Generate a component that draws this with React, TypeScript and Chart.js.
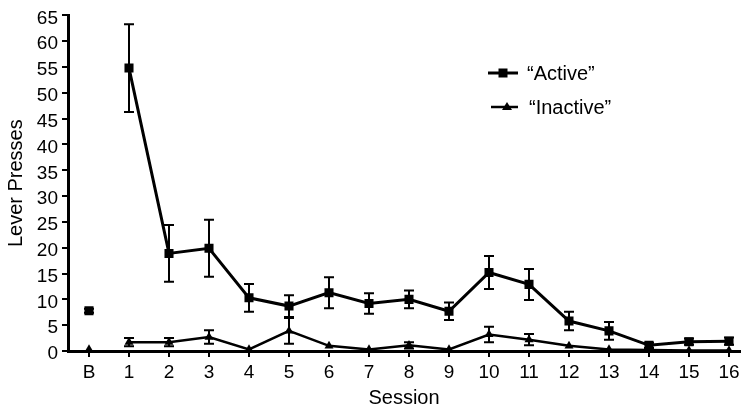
import React, { useEffect, useRef } from "react";
import { Chart, registerables } from "chart.js";

Chart.register(...registerables);

const categories = ["B", "1", "2", "3", "4", "5", "6", "7", "8", "9", "10", "11", "12", "13", "14", "15", "16"];
const activeMean = [7.8, 54.8, 18.9, 19.9, 10.3, 8.7, 11.3, 9.2, 10.0, 7.7, 15.2, 12.9, 5.8, 3.9, 1.1, 1.8, 1.9];
const activeErr = [0.4, 8.5, 5.5, 5.5, 2.7, 2.1, 3.0, 2.0, 1.7, 1.7, 3.2, 3.0, 1.8, 1.7, 0.5, 0.6, 0.7];
const inactiveMean = [0.3, 1.7, 1.7, 2.7, 0.3, 3.9, 1.0, 0.3, 1.1, 0.3, 3.2, 2.2, 1.0, 0.3, 0.2, 0.1, 0.1];
const inactiveErr = [0, 0.8, 0.8, 1.3, 0, 2.5, 0, 0, 0.6, 0, 1.5, 1.1, 0, 0, 0, 0, 0];
const yTicks = [0, 5, 10, 15, 20, 25, 30, 35, 40, 45, 50, 55, 60, 65];
const seriesLabels = ["\u201cActive\u201d", "\u201cInactive\u201d"];

const FONT = "'Liberation Sans', Arial, sans-serif";

const errorBars = {
  id: "errorBars",
  afterDatasetsDraw(chart: any) {
    const ctx = chart.ctx;
    const y = chart.scales.y;
    const errs = [activeErr, inactiveErr];
    const means = [activeMean, inactiveMean];
    ctx.save();
    ctx.strokeStyle = "#000";
    ctx.lineWidth = 2;
    chart.data.datasets.forEach((ds: any, di: number) => {
      const meta = chart.getDatasetMeta(di);
      meta.data.forEach((pt: any, i: number) => {
        const e = errs[di][i];
        if (!e) return;
        const x = pt.x;
        const top = y.getPixelForValue(means[di][i] + e);
        const bot = y.getPixelForValue(Math.max(0, means[di][i] - e));
        ctx.beginPath();
        ctx.moveTo(x, top);
        ctx.lineTo(x, bot);
        ctx.moveTo(x - 5, top);
        ctx.lineTo(x + 5, top);
        ctx.moveTo(x - 5, bot);
        ctx.lineTo(x + 5, bot);
        ctx.stroke();
      });
    });
    ctx.restore();
  },
};

const customLegend = {
  id: "customLegend",
  afterDraw(chart: any) {
    const ctx = chart.ctx;
    ctx.save();
    ctx.strokeStyle = "#000";
    ctx.fillStyle = "#000";
    // Active
    ctx.lineWidth = 3;
    ctx.beginPath();
    ctx.moveTo(488, 73);
    ctx.lineTo(518, 73);
    ctx.stroke();
    ctx.fillRect(503 - 4.5, 73 - 4.5, 9, 9);
    // Inactive
    ctx.lineWidth = 2.5;
    ctx.beginPath();
    ctx.moveTo(491, 107);
    ctx.lineTo(518, 107);
    ctx.stroke();
    ctx.beginPath();
    ctx.moveTo(507, 102);
    ctx.lineTo(512, 110);
    ctx.lineTo(502, 110);
    ctx.closePath();
    ctx.fill();
    ctx.font = `20px ${FONT}`;
    ctx.textBaseline = "middle";
    ctx.textAlign = "left";
    ctx.fillText(seriesLabels[0], 527, 74);
    ctx.fillText(seriesLabels[1], 529, 108);
    ctx.restore();
  },
};

export default function App() {
  const ref = useRef<HTMLCanvasElement>(null);
  useEffect(() => {
    const cv = ref.current!;
    const noLineFromB = (ctx: any) => (ctx.p0DataIndex === 0 ? "rgba(0,0,0,0)" : undefined);
    const chart = new Chart(cv, {
      type: "line",
      data: {
        datasets: [
          {
            label: seriesLabels[0],
            data: activeMean.map((v, i) => ({ x: i, y: v })),
            borderColor: "#000",
            backgroundColor: "#000",
            borderWidth: 3,
            pointStyle: "rect",
            pointRadius: 6.4,
            pointBorderWidth: 0,
            segment: { borderColor: noLineFromB },
          },
          {
            label: seriesLabels[1],
            data: inactiveMean.map((v, i) => ({ x: i, y: v })),
            borderColor: "#000",
            backgroundColor: "#000",
            borderWidth: 2.5,
            pointStyle: "triangle",
            pointRadius: 5.2,
            pointBorderWidth: 0,
            segment: { borderColor: noLineFromB },
          },
        ],
      },
      options: {
        animation: false,
        responsive: false,
        maintainAspectRatio: false,
        layout: { padding: { top: 13, right: 9, left: 0, bottom: 0 } },
        plugins: { legend: { display: false }, tooltip: { enabled: false } },
        scales: {
          x: {
            type: "linear",
            min: -0.525,
            max: 16.275,
            afterBuildTicks: (scale: any) => {
              scale.ticks = categories.map((_, i) => ({ value: i }));
            },
            afterFit: (scale: any) => {
              scale.height = 64;
            },
            ticks: {
              callback: (v: any) => categories[v as number],
              color: "#000",
              font: { size: 19, family: FONT },
              padding: 4,
              maxRotation: 0,
              autoSkip: false,
            },
            grid: { display: true, drawOnChartArea: false, drawTicks: true, tickLength: 6, color: "#000", lineWidth: 2 },
            border: { display: true, color: "#000", width: 3 },
            title: { display: true, text: "Session", color: "#000", font: { size: 20, family: FONT }, padding: { top: 2, bottom: 5 } },
          },
          y: {
            type: "linear",
            min: 0,
            max: 65,
            afterBuildTicks: (scale: any) => {
              scale.ticks = yTicks.map((v) => ({ value: v }));
            },
            afterFit: (scale: any) => {
              scale.width = 68;
            },
            ticks: {
              color: "#000",
              font: { size: 19, family: FONT },
              padding: 4,
              labelOffset: 3,
            },
            grid: { display: true, drawOnChartArea: false, drawTicks: true, tickLength: 6, color: "#000", lineWidth: 2 },
            border: { display: true, color: "#000", width: 3 },
            title: { display: true, text: "Lever Presses", color: "#000", font: { size: 20, family: FONT }, padding: { top: 4, bottom: 0 } },
          },
        },
      },
      plugins: [errorBars, customLegend],
    } as any);
    return () => chart.destroy();
  }, []);
  return (
    <div style={{ position: "fixed", left: 0, top: 0, width: 749, height: 415, background: "#fff" }}>
      <canvas ref={ref} width={749} height={415} style={{ display: "block" }} />
    </div>
  );
}
